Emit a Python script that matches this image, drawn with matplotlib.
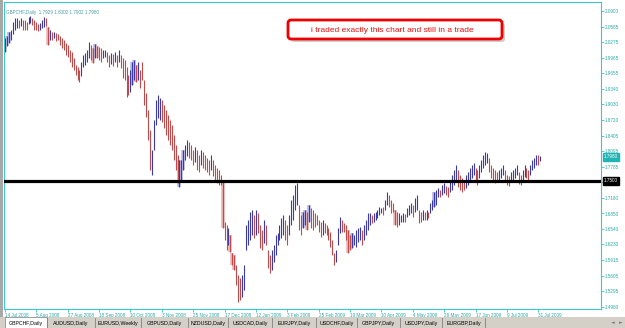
import numpy as np
import matplotlib.pyplot as plt
from matplotlib.patches import FancyBboxPatch, Rectangle

# GBPCHF daily bars, 14 Jul 2008 .. early Aug 2009
highs = [
    2.036, 2.040, 2.048, 2.052, 2.068, 2.076, 2.076, 2.072, 2.076, 2.072,
    2.072, 2.068, 2.078, 2.080, 2.076, 2.072, 2.068, 2.064, 2.066, 2.072,
    2.078, 2.076, 2.058, 2.052, 2.048, 2.048, 2.046, 2.044, 2.040, 2.036,
    2.032, 2.026, 2.022, 2.012, 2.008, 1.996, 1.982, 1.978, 1.972, 1.988,
    2.002, 2.006, 2.012, 2.028, 2.022, 2.016, 2.024, 2.020, 2.018, 2.016,
    2.012, 2.012, 2.008, 2.002, 2.006, 2.004, 2.008, 2.002, 2.012, 2.002,
    1.996, 1.992, 1.978, 1.962, 1.972, 1.988, 1.992, 1.982, 1.988, 1.972,
    1.988, 1.952, 1.926, 1.892, 1.852, 1.812, 1.872, 1.912, 1.922, 1.916,
    1.912, 1.902, 1.892, 1.882, 1.872, 1.862, 1.842, 1.822, 1.802, 1.792,
    1.792, 1.812, 1.822, 1.832, 1.828, 1.822, 1.812, 1.818, 1.812, 1.802,
    1.812, 1.808, 1.802, 1.796, 1.792, 1.802, 1.792, 1.782, 1.776, 1.772,
    1.762, 1.748, 1.668, 1.662, 1.656, 1.642, 1.606, 1.602, 1.582, 1.562,
    1.556, 1.562, 1.582, 1.662, 1.672, 1.688, 1.692, 1.682, 1.692, 1.686,
    1.662, 1.652, 1.672, 1.662, 1.612, 1.602, 1.612, 1.622, 1.642, 1.646,
    1.662, 1.676, 1.682, 1.672, 1.662, 1.682, 1.712, 1.722, 1.742, 1.746,
    1.702, 1.682, 1.688, 1.692, 1.688, 1.702, 1.696, 1.692, 1.686, 1.682,
    1.672, 1.668, 1.672, 1.666, 1.662, 1.656, 1.648, 1.632, 1.606, 1.612,
    1.656, 1.678, 1.672, 1.666, 1.662, 1.652, 1.642, 1.646, 1.642, 1.652,
    1.656, 1.658, 1.652, 1.662, 1.672, 1.686, 1.686, 1.682, 1.686, 1.688,
    1.692, 1.698, 1.696, 1.698, 1.712, 1.728, 1.722, 1.712, 1.706, 1.692,
    1.688, 1.686, 1.682, 1.686, 1.684, 1.696, 1.702, 1.706, 1.702, 1.716,
    1.722, 1.692, 1.688, 1.692, 1.688, 1.692, 1.688, 1.706, 1.712, 1.728,
    1.732, 1.736, 1.732, 1.742, 1.746, 1.740, 1.738, 1.752, 1.762, 1.772,
    1.782, 1.772, 1.762, 1.756, 1.752, 1.762, 1.768, 1.776, 1.782, 1.786,
    1.776, 1.772, 1.782, 1.792, 1.802, 1.808, 1.806, 1.796, 1.782, 1.776,
    1.772, 1.768, 1.772, 1.776, 1.782, 1.772, 1.762, 1.760, 1.768, 1.772,
    1.776, 1.782, 1.768, 1.762, 1.772, 1.782, 1.776, 1.772, 1.782, 1.792,
    1.796, 1.802, 1.802, 1.800,
]
lows = [
    2.008, 2.020, 2.026, 2.032, 2.044, 2.052, 2.056, 2.056, 2.060, 2.052,
    2.052, 2.052, 2.064, 2.066, 2.062, 2.052, 2.052, 2.050, 2.052, 2.056,
    2.058, 2.060, 2.022, 2.032, 2.032, 2.036, 2.030, 2.032, 2.022, 2.016,
    2.012, 2.002, 1.998, 1.988, 1.978, 1.972, 1.962, 1.952, 1.948, 1.960,
    1.978, 1.982, 1.988, 1.996, 1.992, 1.986, 1.996, 1.996, 1.992, 1.988,
    1.996, 1.998, 1.988, 1.978, 1.984, 1.980, 1.988, 1.978, 1.988, 1.976,
    1.956, 1.952, 1.918, 1.922, 1.928, 1.942, 1.952, 1.948, 1.952, 1.936,
    1.952, 1.902, 1.878, 1.832, 1.772, 1.762, 1.812, 1.862, 1.876, 1.872,
    1.868, 1.856, 1.842, 1.832, 1.822, 1.812, 1.792, 1.772, 1.746, 1.738,
    1.752, 1.772, 1.792, 1.800, 1.796, 1.792, 1.782, 1.788, 1.772, 1.768,
    1.782, 1.776, 1.772, 1.768, 1.762, 1.772, 1.760, 1.752, 1.746, 1.742,
    1.742, 1.656, 1.632, 1.612, 1.622, 1.608, 1.582, 1.572, 1.542, 1.508,
    1.512, 1.518, 1.532, 1.612, 1.622, 1.632, 1.642, 1.636, 1.642, 1.646,
    1.616, 1.612, 1.626, 1.622, 1.576, 1.566, 1.572, 1.588, 1.602, 1.622,
    1.632, 1.636, 1.642, 1.632, 1.622, 1.642, 1.662, 1.672, 1.692, 1.702,
    1.652, 1.642, 1.656, 1.662, 1.652, 1.668, 1.656, 1.652, 1.658, 1.662,
    1.648, 1.638, 1.642, 1.646, 1.642, 1.632, 1.618, 1.602, 1.582, 1.588,
    1.622, 1.646, 1.648, 1.648, 1.632, 1.606, 1.612, 1.616, 1.622, 1.618,
    1.628, 1.632, 1.622, 1.632, 1.642, 1.652, 1.662, 1.666, 1.668, 1.672,
    1.676, 1.682, 1.686, 1.682, 1.692, 1.702, 1.698, 1.686, 1.688, 1.662,
    1.658, 1.662, 1.668, 1.668, 1.668, 1.678, 1.682, 1.686, 1.678, 1.688,
    1.692, 1.666, 1.668, 1.672, 1.672, 1.672, 1.676, 1.686, 1.692, 1.698,
    1.702, 1.718, 1.718, 1.722, 1.726, 1.722, 1.718, 1.728, 1.732, 1.742,
    1.752, 1.738, 1.732, 1.728, 1.732, 1.736, 1.742, 1.748, 1.756, 1.762,
    1.752, 1.742, 1.756, 1.768, 1.776, 1.782, 1.786, 1.768, 1.756, 1.752,
    1.746, 1.748, 1.752, 1.756, 1.762, 1.748, 1.742, 1.740, 1.748, 1.752,
    1.756, 1.762, 1.744, 1.742, 1.752, 1.758, 1.756, 1.752, 1.762, 1.772,
    1.776, 1.782, 1.782, 1.790,
]
# u = bull bar (blue), d = bear bar (red)
direction = ("uuuuuuudud" "dduudddduu" "uddududddd" "dddddddddu" "uuuudduddd"
             "uuddududud" "dddduuudud" "ddddduuuuu" "dddddddddu" "uuuudddudd"
             "uddddudddd" "dddduddddd" "duuuuuudud" "dduddduuuu" "uuudduuuuu"
             "dduududddd" "dduddddddu" "uuddddduuu" "uuduuuuduu" "uuuduudddd"
             "duuuduuudu" "uddududuuu" "uuduudduuu" "udddduuuuu" "dduuuuuddd"
             "dduuuddduu" "uudduudduu" "uudu")
# bars that show a pale highlight behind them
shaded = [0, 1, 2, 22, 45, 46, 47, 65, 66, 67, 89, 90, 91, 111, 115, 116, 117,
          152, 153, 154, 155, 175, 176, 177, 199, 219]

date_idx = [0, 16, 32, 48, 64, 80, 96, 112, 128, 144, 160, 176, 192, 208, 224, 240, 256, 272]
date_labels = ['14 Jul 2008', '5 Aug 2008', '27 Aug 2008', '18 Sep 2008', '10 Oct 2008',
               '3 Nov 2008', '25 Nov 2008', '17 Dec 2008', '12 Jan 2009', '3 Feb 2009',
               '25 Feb 2009', '19 Mar 2009', '10 Apr 2009', '4 May 2009', '26 May 2009',
               '17 Jun 2009', '9 Jul 2009', '31 Jul 2009']
# the 1.7470 level sits under the black 1.7500 tag, so its label is not shown
price_ticks = [1.4980, 1.5295, 1.5605, 1.5915, 1.6230, 1.6540, 1.6850, 1.7160, 1.7470,
               1.7785, 1.8095, 1.8405, 1.8720, 1.9030, 1.9340, 1.9655, 1.9965, 2.0275,
               2.0585, 2.0900]
hidden_tick = 1.7470

header = 'GBPCHF,Daily  1.7929 1.8002 1.7902 1.7980'
last_price = 1.7980
level = 1.7500
note = 'i traded exactly this chart and still in a trade'
tabs = ['GBPCHF,Daily', 'AUDUSD,Daily', 'EURUSD,Weekly', 'GBPUSD,Daily', 'NZDUSD,Daily',
        'USDCAD,Daily', 'EURJPY,Daily', 'USDCHF,Daily', 'GBPJPY,Daily', 'USDJPY,Daily',
        'EURGBP,Daily']

teal = '#3cc8c8'
txt = '#2aa8a8'
blue = '#3a3aa8'
red = '#c04a4a'
font = 'Liberation Sans'

W, H = 625, 328
fig = plt.figure(figsize=(W / 100, H / 100), dpi=100)
ax = fig.add_axes([4 / W, 19 / H, 597 / W, 307 / H])

x = np.arange(len(highs))
hi = np.array(highs)
lo = np.array(lows)
up = np.array([c == 'u' for c in direction])

# pale highlight bars
sh = np.array(shaded)
ax.vlines(x[sh], lo[sh], hi[sh], colors=np.where(up[sh], '#b8b8e8', '#eab8b8'),
          lw=2.6, zorder=1)
# high-low bars
ax.vlines(x, lo, hi, colors=np.where(up, blue, red), lw=0.8, zorder=2)

ax.axhline(level, color='black', lw=2.3, zorder=3)

ax.set_xlim(-0.5, 304)
ax.set_ylim(1.494, 2.108)

ax.yaxis.tick_right()
ax.set_yticks(price_ticks)
ax.set_yticklabels(['' if p == hidden_tick else f'{p:.4f}' for p in price_ticks],
                   fontsize=3.3, color=txt, family=font)
ax.set_xticks(date_idx)
ax.set_xticklabels(date_labels, fontsize=3.3, color=txt, family=font, ha='left')
ax.tick_params(axis='both', length=2, width=0.6, color=teal, pad=1)
for s in ax.spines.values():
    s.set_color(teal)
    s.set_linewidth(0.8)

ax.text(0.004, 0.975, header, transform=ax.transAxes, fontsize=3.3, color='#4aa0a8',
        family=font, va='top', ha='left')

# price tags on the right scale
for val, fc in [(last_price, '#20b4b4'), (level, 'black')]:
    ax.annotate(f'{val:.4f}', xy=(1.0, val), xycoords=('axes fraction', 'data'),
                xytext=(2, 0), textcoords='offset points', fontsize=3.3, color='white',
                family=font, va='center', ha='left', annotation_clip=False, zorder=5,
                bbox=dict(boxstyle='square,pad=0.25', fc=fc, ec=fc))

# overlay in pixel coordinates for window chrome and the note
ov = fig.add_axes([0, 0, 1, 1])
ov.set_xlim(0, W)
ov.set_ylim(H, 0)
ov.axis('off')
ov.patch.set_alpha(0)

ov.add_patch(Rectangle((0, 0), 3, 317, fc='#a8a8a8', ec='none'))
ov.add_patch(Rectangle((0, 317), W, 11, fc='#d4d0c8', ec='none'))
edges = [5, 47, 95, 141, 188, 228, 272, 316, 357, 400, 442, 485]
ov.add_patch(Rectangle((edges[0], 317), edges[1] - edges[0], 11, fc='white', ec='#808080', lw=0.5))
for i, t in enumerate(tabs):
    ov.plot([edges[i + 1], edges[i + 1]], [318, 327], color='#808080', lw=0.6)
    ov.text((edges[i] + edges[i + 1]) / 2, 323, t, fontsize=3.8, family=font,
            color='black', ha='center', va='center')
ov.text(613, 323, '\u25c4', fontsize=3.5, color='#808080', ha='center', va='center')
ov.text(621, 323, '\u25ba', fontsize=3.5, color='#808080', ha='center', va='center')

ov.add_patch(FancyBboxPatch((291, 23), 214, 19, boxstyle='round,pad=0,rounding_size=3',
                            fc='#909090', ec='none', alpha=0.45))
ov.add_patch(FancyBboxPatch((288, 20), 214, 19, boxstyle='round,pad=0,rounding_size=3',
                            fc='white', ec='#ee0000', lw=2))
ov.text(392, 30, note, fontsize=6, family=font, color='#ee1010', ha='center', va='center')

fig.savefig('out.png', dpi=100)
